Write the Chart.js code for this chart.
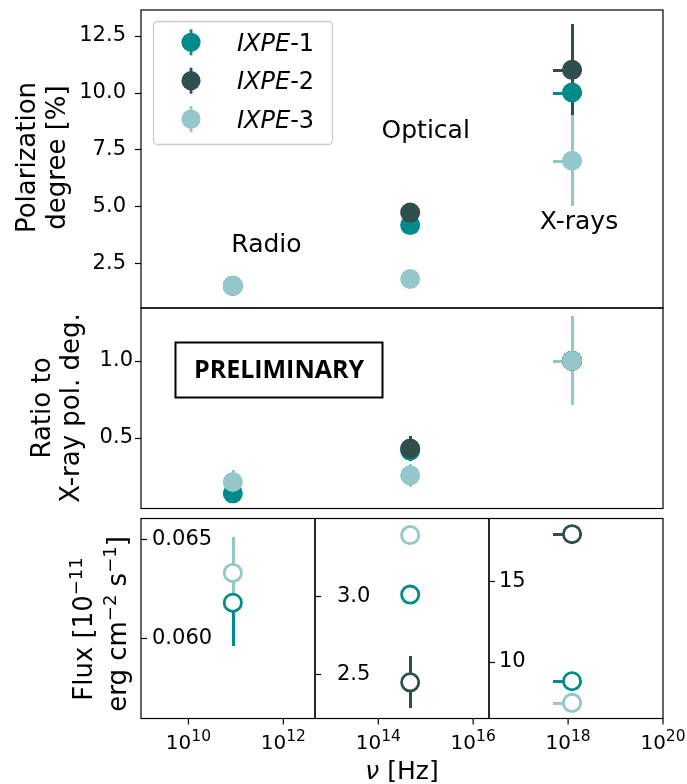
<!DOCTYPE html>
<html>
<head>
<meta charset="utf-8">
<title>Multi-wavelength polarization</title>
<script src="https://cdn.jsdelivr.net/npm/chart.js@4.4.1/dist/chart.umd.min.js"></script>
<style>
  html, body { margin: 0; padding: 0; background: #ffffff; }
  #wrap { position: relative; width: 687px; height: 784px; overflow: hidden; background: #ffffff; }
  #wrap canvas { position: absolute; left: 0; top: 0; }
</style>
</head>
<body>
<div id="wrap">
  <canvas id="cPol" width="687" height="784"></canvas>
  <canvas id="cRatio" width="687" height="784"></canvas>
  <canvas id="cFluxRadio" width="687" height="784"></canvas>
  <canvas id="cFluxOptical" width="687" height="784"></canvas>
  <canvas id="cFluxXray" width="687" height="784"></canvas>
</div>
<script>
// ---- Data -------------------------------------------------------------
const bands = ['Radio', 'Optical', 'X-rays'];
const bandFreq = [8.6e10, 4.7e14, 1.21e18];          // Hz
const xrayBandLow = 4.84e17;                          // 2 keV
const xrayBandHigh = 1.93e18;                         // 8 keV

const seriesNames = ['IXPE-1', 'IXPE-2', 'IXPE-3'];
const seriesColors = ['#008b8b', '#2f4f4f', '#94c6ca'];

// Polarization degree [%] per band (Radio, Optical, X-rays)
const polDeg1 = [1.5, 4.17, 10.0];
const polDeg2 = [null, 4.72, 11.0];
const polDeg3 = [1.5, 1.80, 7.0];
const polErr1 = [0.1, 0.1, 1.0];
const polErr2 = [null, 0.1, 2.0];
const polErr3 = [0.1, 0.1, 2.0];

// Ratio to the X-ray polarization degree
const ratio1 = [0.140, 0.417, 1.0];
const ratio2 = [null, 0.430, 1.0];
const ratio3 = [0.214, 0.257, 1.0];
const ratioErr1 = [0.02, 0.04, 0.10];
const ratioErr2 = [null, 0.08, 0.18];
const ratioErr3 = [0.075, 0.075, 0.286];

// Flux [1e-11 erg cm^-2 s^-1] per band, ordered IXPE-1, IXPE-2, IXPE-3
const fluxRadio = [0.0618, null, 0.0633];
const fluxRadioErr = [0.0022, null, 0.0018];
const fluxOptical = [3.01, 2.45, 3.39];
const fluxOpticalErr = [0.02, 0.167, 0.02];
const fluxXray = [8.80, 17.91, 7.46];
const fluxXrayErr = [0.1, 0.1, 0.1];

// Tick labels
const polTicks = [2.5, 5.0, 7.5, 10.0, 12.5];
const ratioTicks = [0.5, 1.0];
const fluxRadioTicks = [0.060, 0.065];
const fluxOpticalTicks = [2.5, 3.0];
const fluxXrayTicks = [10, 15];
const freqTickExponents = [10, 12, 14, 16, 18, 20];

// ---- Layout ------------------------------------------------------------
const W = 687, H = 784;
const PLOT_L = 141, PLOT_R = 663;
const LOG_MIN = 9, LOG_MAX = 20;
const FONT = 'DejaVu Sans';
const thirdW = (PLOT_R - PLOT_L) / 3;
const thirdLog = (LOG_MAX - LOG_MIN) / 3;

// ---- Helpers -----------------------------------------------------------
function drawRich(ctx, parts, x, y, o) {
  const size = o.size;
  const fam = o.family || FONT;
  const supSize = o.supSize || size * 0.7;
  const supRise = o.supRise || size * 0.36;
  const fontOf = p => (p.italic ? 'italic ' : '') + (p.bold ? 'bold ' : '') +
    (p.sup ? supSize : size) + 'px "' + fam + '"';
  ctx.save();
  ctx.translate(x, y);
  if (o.rotate) ctx.rotate(o.rotate);
  ctx.textBaseline = o.baseline || 'alphabetic';
  ctx.textAlign = 'left';
  ctx.fillStyle = o.color || '#000';
  let total = 0;
  const widths = parts.map(p => { ctx.font = fontOf(p); const w = ctx.measureText(p.text).width; total += w; return w; });
  let cx = o.align === 'center' ? -total / 2 : (o.align === 'right' ? -total : 0);
  parts.forEach((p, k) => {
    ctx.font = fontOf(p);
    ctx.fillText(p.text, cx, p.sup ? -supRise : 0);
    cx += widths[k];
  });
  ctx.restore();
}

function makeSeries(i, values, errs, hollow) {
  const pts = [];
  values.forEach((v, j) => {
    if (v === null) return;
    const isX = bands[j] === 'X-rays';
    pts.push({ x: bandFreq[j], y: v, yErr: errs[j],
               xLo: isX ? xrayBandLow : null, xHi: isX ? xrayBandHigh : null });
  });
  return {
    label: seriesNames[i],
    data: pts,
    order: 2 - i,
    pointStyle: 'circle',
    pointRadius: hollow ? 8.6 : 10,
    pointHoverRadius: hollow ? 8.6 : 10,
    pointBackgroundColor: hollow ? '#ffffff' : seriesColors[i],
    pointBorderColor: seriesColors[i],
    pointBorderWidth: hollow ? 2.8 : 0,
    showLine: false
  };
}

// Only the points from one band (used by the flux panels)
function bandSeries(i, bandIdx, value, err) {
  const vals = bands.map((b, j) => (j === bandIdx ? value : null));
  const errs = bands.map((b, j) => (j === bandIdx ? err : null));
  return makeSeries(i, vals, errs, true);
}

// Error bars under all markers, drawn in series order (pixel-snapped so
// overlapping bars cover each other cleanly)
const errorBarPlugin = {
  id: 'errorBars',
  beforeDatasetsDraw(chart) {
    const { ctx, chartArea, scales } = chart;
    const snap = v => Math.round(v) + 0.5;
    ctx.save();
    ctx.beginPath();
    ctx.rect(chartArea.left, chartArea.top, chartArea.right - chartArea.left, chartArea.bottom - chartArea.top);
    ctx.clip();
    ctx.lineWidth = 3;
    ctx.lineCap = 'butt';
    chart.data.datasets.forEach(ds => {
      ctx.strokeStyle = ds.pointBorderColor;
      ds.data.forEach(p => {
        const px = snap(scales.x.getPixelForValue(p.x));
        if (p.yErr) {
          ctx.beginPath();
          ctx.moveTo(px, Math.round(scales.y.getPixelForValue(p.y - p.yErr)));
          ctx.lineTo(px, Math.round(scales.y.getPixelForValue(p.y + p.yErr)));
          ctx.stroke();
        }
        if (p.xLo && p.xHi) {
          const py = snap(scales.y.getPixelForValue(p.y));
          ctx.beginPath();
          ctx.moveTo(Math.round(scales.x.getPixelForValue(p.xLo)), py);
          ctx.lineTo(Math.round(scales.x.getPixelForValue(p.xHi)), py);
          ctx.stroke();
        }
      });
    });
    ctx.restore();
  }
};

// Axes frame, tick marks, and per-panel decorations
const framePlugin = {
  id: 'frame',
  afterDraw(chart, args, opts) {
    const { ctx, chartArea: a, scales } = chart;
    ctx.save();
    ctx.strokeStyle = '#000';
    ctx.lineWidth = 1.2;
    ctx.strokeRect(a.left, a.top, a.right - a.left, a.bottom - a.top);
    // y tick marks
    const dir = opts.tickIn ? 1 : -1;
    scales.y.ticks.forEach(t => {
      const py = Math.round(scales.y.getPixelForValue(t.value)) + 0.5;
      ctx.beginPath();
      ctx.moveTo(a.left, py);
      ctx.lineTo(a.left + dir * 6, py);
      ctx.stroke();
    });
    // x tick marks and labels for the bottom row
    if (opts.xTicks) {
      opts.xTicks.forEach(e => {
        const px = scales.x.getPixelForValue(Math.pow(10, e));
        ctx.beginPath();
        ctx.moveTo(px, a.bottom);
        ctx.lineTo(px, a.bottom + 6);
        ctx.stroke();
        drawRich(ctx, [{ text: '10' }, { text: String(e), sup: true }], px, 749,
                 { size: 20, supSize: 15.5, supRise: 8.5, align: 'center' });
      });
    }
    ctx.restore();
    if (opts.extra) opts.extra(chart);
  }
};

function makeChart(id, cfg) {
  return new Chart(document.getElementById(id), {
    type: 'scatter',
    data: { datasets: cfg.datasets },
    options: {
      responsive: false,
      animation: false,
      events: [],
      layout: { padding: { left: 0, top: cfg.area.top, right: W - cfg.area.right, bottom: H - cfg.area.bottom } },
      scales: {
        x: { type: 'logarithmic', min: cfg.xMin, max: cfg.xMax, display: false },
        y: {
          type: 'linear', min: cfg.yMin, max: cfg.yMax,
          afterBuildTicks: s => { s.ticks = cfg.yTicks.map(v => ({ value: v })); },
          afterFit: s => { s.width = cfg.area.left; s.paddingTop = 0; s.paddingBottom = 0; },
          grid: { display: false },
          border: { display: false },
          ticks: {
            mirror: !!cfg.mirror,
            padding: cfg.labelPad,
            autoSkip: false,
            color: '#000',
            font: { family: FONT, size: 21 },
            callback: v => v.toFixed(cfg.decimals)
          }
        }
      },
      plugins: {
        legend: { display: false },
        tooltip: { enabled: false },
        frame: { tickIn: !!cfg.mirror, xTicks: cfg.xTicks, extra: cfg.extra }
      }
    },
    plugins: [errorBarPlugin, framePlugin]
  });
}

// ---- Panel: polarization degree ----------------------------------------
makeChart('cPol', {
  area: { left: PLOT_L, right: PLOT_R, top: 8, bottom: 308 },
  xMin: Math.pow(10, LOG_MIN), xMax: Math.pow(10, LOG_MAX),
  yMin: 0.525, yMax: 13.63, yTicks: polTicks, decimals: 1, labelPad: 7,
  datasets: [
    makeSeries(0, polDeg1, polErr1, false),
    makeSeries(1, polDeg2, polErr2, false),
    makeSeries(2, polDeg3, polErr3, false)
  ],
  extra(chart) {
    const { ctx, scales } = chart;
    // band names
    const bandLabelAt = [[4.4e11, 2.98], [1.0e15, 8.0], [1.7e18, 4.0]];
    bands.forEach((b, j) => {
      drawRich(ctx, [{ text: b }], scales.x.getPixelForValue(bandLabelAt[j][0]),
               scales.y.getPixelForValue(bandLabelAt[j][1]), { size: 25, align: 'center' });
    });
    // legend
    ctx.save();
    ctx.fillStyle = 'rgba(255,255,255,0.8)';
    ctx.strokeStyle = '#cccccc';
    ctx.lineWidth = 1.3;
    ctx.beginPath();
    ctx.roundRect(153.5, 21.5, 179, 123, 4);
    ctx.fill();
    ctx.stroke();
    seriesNames.forEach((name, i) => {
      const cy = 42.3 + i * 38.4;
      ctx.strokeStyle = seriesColors[i];
      ctx.lineWidth = 2.8;
      ctx.beginPath();
      ctx.moveTo(191, cy - 13);
      ctx.lineTo(191, cy + 13);
      ctx.stroke();
      ctx.fillStyle = seriesColors[i];
      ctx.beginPath();
      ctx.arc(191, cy, 9.6, 0, Math.PI * 2);
      ctx.fill();
      const parts = name.split('-');
      drawRich(ctx, [{ text: parts[0], italic: true }, { text: '-' + parts[1] }], 237, cy + 8.6, { size: 24 });
    });
    ctx.restore();
    // y-axis title
    drawRich(ctx, [{ text: 'Polarization' }], 35, 157.5, { size: 26, rotate: -Math.PI / 2, align: 'center' });
    drawRich(ctx, [{ text: 'degree [%]' }], 65, 157.5, { size: 26, rotate: -Math.PI / 2, align: 'center' });
  }
});

// ---- Panel: ratio to X-ray polarization degree -------------------------
makeChart('cRatio', {
  area: { left: PLOT_L, right: PLOT_R, top: 308, bottom: 508.5 },
  xMin: Math.pow(10, LOG_MIN), xMax: Math.pow(10, LOG_MAX),
  yMin: 0.042, yMax: 1.341, yTicks: ratioTicks, decimals: 1, labelPad: 0,
  datasets: [
    makeSeries(0, ratio1, ratioErr1, false),
    makeSeries(1, ratio2, ratioErr2, false),
    makeSeries(2, ratio3, ratioErr3, false)
  ],
  extra(chart) {
    const { ctx } = chart;
    ctx.save();
    ctx.strokeStyle = '#000';
    ctx.lineWidth = 2;
    ctx.strokeRect(175.5, 342.5, 207, 55);
    ctx.fillStyle = '#000';
    ctx.font = 'bold 25px "Open Sans"';
    ctx.textAlign = 'center';
    ctx.textBaseline = 'middle';
    ctx.fillText('PRELIMINARY', 279, 371);
    ctx.restore();
    drawRich(ctx, [{ text: 'Ratio to' }], 50, 408, { size: 26, rotate: -Math.PI / 2, align: 'center' });
    drawRich(ctx, [{ text: 'X-ray pol. deg.' }], 79, 408, { size: 26, rotate: -Math.PI / 2, align: 'center' });
  }
});

// ---- Bottom row: flux per band ------------------------------------------
const fluxTop = 518.5, fluxBottom = 718.5;

makeChart('cFluxRadio', {
  area: { left: PLOT_L, right: PLOT_L + thirdW, top: fluxTop, bottom: fluxBottom },
  xMin: Math.pow(10, LOG_MIN), xMax: Math.pow(10, LOG_MIN + thirdLog),
  yMin: 0.05597, yMax: 0.06604, yTicks: fluxRadioTicks, decimals: 3,
  mirror: true, labelPad: 11, xTicks: freqTickExponents.slice(0, 2),
  datasets: [0, 1, 2].map(i => bandSeries(i, 0, fluxRadio[i], fluxRadioErr[i])),
  extra(chart) {
    const { ctx } = chart;
    drawRich(ctx, [{ text: 'Flux [10' }, { text: '−11', sup: true }], 92, 629,
             { size: 26, supSize: 18, supRise: 10, rotate: -Math.PI / 2, align: 'center' });
    drawRich(ctx, [{ text: 'erg cm' }, { text: '−2', sup: true }, { text: ' s' }, { text: '−1', sup: true }, { text: ']' }],
             126, 624, { size: 26, supSize: 18, supRise: 10, rotate: -Math.PI / 2, align: 'center' });
    drawRich(ctx, [{ text: 'ν', italic: true }, { text: ' [Hz]' }], (PLOT_L + PLOT_R) / 2, 779,
             { size: 25, align: 'center' });
  }
});

makeChart('cFluxOptical', {
  area: { left: PLOT_L + thirdW, right: PLOT_L + 2 * thirdW, top: fluxTop, bottom: fluxBottom },
  xMin: Math.pow(10, LOG_MIN + thirdLog), xMax: Math.pow(10, LOG_MIN + 2 * thirdLog),
  yMin: 2.219, yMax: 3.496, yTicks: fluxOpticalTicks, decimals: 1,
  mirror: true, labelPad: 22, xTicks: freqTickExponents.slice(2, 4),
  datasets: [0, 1, 2].map(i => bandSeries(i, 1, fluxOptical[i], fluxOpticalErr[i]))
});

makeChart('cFluxXray', {
  area: { left: PLOT_L + 2 * thirdW, right: PLOT_R, top: fluxTop, bottom: fluxBottom },
  xMin: Math.pow(10, LOG_MIN + 2 * thirdLog), xMax: Math.pow(10, LOG_MAX),
  yMin: 6.49, yMax: 18.88, yTicks: fluxXrayTicks, decimals: 0,
  mirror: true, labelPad: 10, xTicks: freqTickExponents.slice(4, 6),
  datasets: [0, 1, 2].map(i => bandSeries(i, 2, fluxXray[i], fluxXrayErr[i]))
});
</script>
</body>
</html>
